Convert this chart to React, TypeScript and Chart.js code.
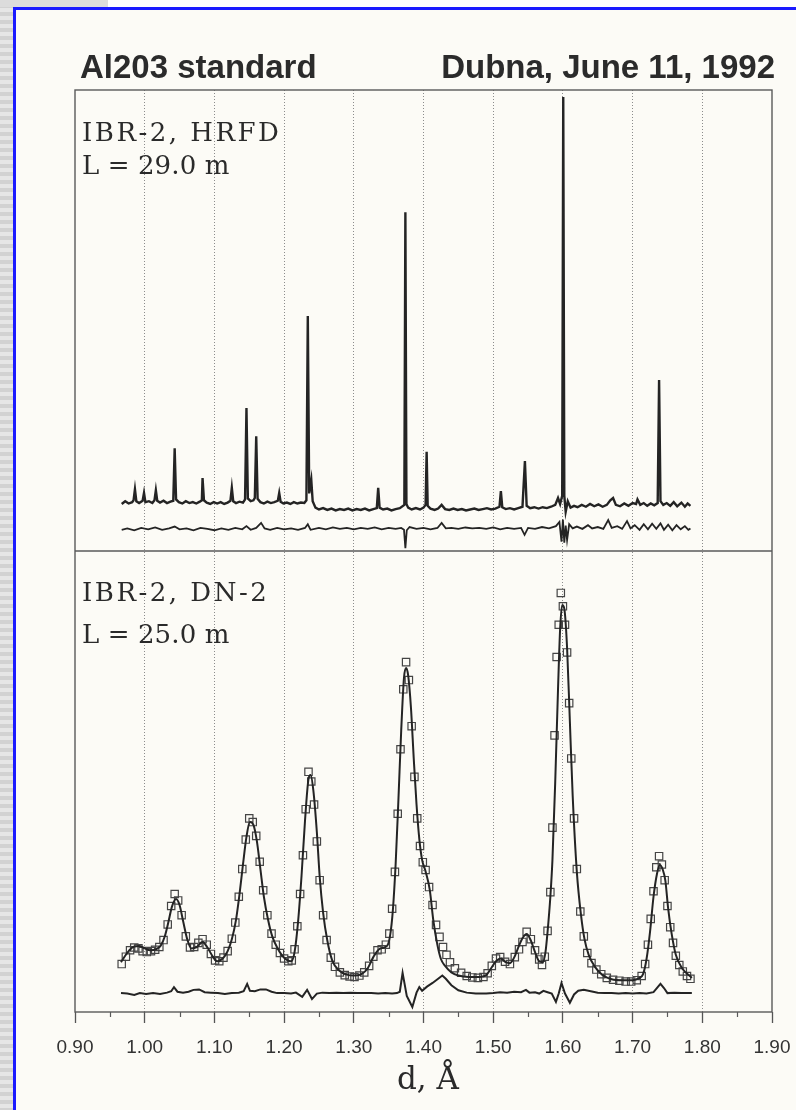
import React, { useEffect, useRef } from "react";
import { Chart, registerables } from "chart.js";

Chart.register(...registerables);

// ---- axis ----
const xMin = 0.9;
const xMax = 1.9;
const xStep = 0.1;
const xMinorTicks = [0.95, 1.05, 1.15, 1.25, 1.35, 1.45, 1.55, 1.65, 1.75, 1.85];
const yPanelHeight = 100; // each panel spans 0..100 units; upper panel is shifted by this

// ---- upper panel: IBR-2, HRFD (d, intensity in panel units) ----
const hrfdObserved: [number, number][] = [
  [0.967, 10.2], [0.972, 10.8], [0.977, 10.3], [0.982, 10.6], [0.984, 11.0], [0.986, 13.4], [0.988, 10.8],
  [0.992, 10.4], [0.997, 10.9], [0.999, 12.6], [1.001, 10.6], [1.006, 10.8], [1.011, 10.4], [1.014, 11.0],
  [1.016, 13.2], [1.018, 10.9], [1.022, 10.5], [1.027, 10.9], [1.032, 10.4], [1.037, 10.7], [1.041, 10.9],
  [1.043, 22.3], [1.045, 11.2], [1.049, 10.6], [1.054, 10.3], [1.059, 10.8], [1.064, 10.4], [1.069, 10.6],
  [1.074, 10.3], [1.079, 10.7], [1.082, 11.0], [1.083, 15.8], [1.085, 11.0], [1.089, 10.5], [1.094, 10.2],
  [1.099, 10.6], [1.104, 10.3], [1.109, 10.6], [1.114, 10.2], [1.119, 10.5], [1.123, 10.9], [1.125, 13.7],
  [1.127, 10.8], [1.131, 10.4], [1.136, 10.7], [1.141, 10.5], [1.144, 11.2], [1.146, 31.0], [1.148, 11.4],
  [1.152, 10.8], [1.156, 11.0], [1.158, 11.5], [1.160, 24.9], [1.162, 11.3], [1.166, 10.6], [1.171, 10.3],
  [1.176, 10.7], [1.181, 10.4], [1.186, 10.6], [1.191, 10.9], [1.193, 12.6], [1.195, 10.7], [1.199, 10.3],
  [1.204, 10.5], [1.209, 10.2], [1.214, 10.6], [1.219, 10.3], [1.224, 10.5], [1.229, 10.4], [1.232, 11.0],
  [1.234, 51.0], [1.236, 12.5], [1.239, 15.4], [1.241, 10.8], [1.245, 9.4], [1.250, 9.0], [1.256, 9.3],
  [1.262, 8.9], [1.268, 9.2], [1.274, 8.8], [1.280, 9.1], [1.286, 8.9], [1.292, 9.2], [1.298, 8.8],
  [1.304, 9.1], [1.310, 8.9], [1.316, 9.2], [1.322, 8.8], [1.328, 9.1], [1.333, 9.3], [1.335, 13.7],
  [1.337, 9.4], [1.342, 9.0], [1.348, 9.2], [1.354, 8.8], [1.360, 9.1], [1.366, 9.3], [1.3725, 10.0],
  [1.374, 73.5], [1.3755, 10.2], [1.378, 9.4], [1.383, 9.0], [1.389, 9.3], [1.395, 9.0], [1.400, 9.4],
  [1.403, 10.0], [1.4045, 21.5], [1.406, 9.8], [1.410, 9.2], [1.416, 8.9], [1.421, 9.2], [1.426, 10.0],
  [1.431, 9.1], [1.437, 8.9], [1.443, 9.2], [1.449, 8.9], [1.455, 9.1], [1.461, 8.8], [1.467, 9.0],
  [1.473, 9.2], [1.479, 8.9], [1.485, 9.1], [1.491, 9.3], [1.497, 9.0], [1.503, 9.2], [1.509, 9.6],
  [1.511, 13.0], [1.513, 9.5], [1.518, 9.1], [1.524, 9.3], [1.530, 9.0], [1.536, 9.3], [1.542, 9.6],
  [1.5455, 19.5], [1.548, 9.8], [1.553, 9.3], [1.559, 9.5], [1.565, 9.2], [1.571, 9.5], [1.577, 9.3],
  [1.583, 9.6], [1.589, 10.0], [1.593, 11.5], [1.596, 10.2], [1.599, 12.0], [1.6005, 98.5], [1.602, 12.0],
  [1.604, 8.5], [1.607, 10.8], [1.611, 9.4], [1.616, 9.8], [1.621, 9.5], [1.627, 10.0], [1.633, 9.6],
  [1.639, 10.2], [1.645, 9.7], [1.651, 10.1], [1.657, 9.6], [1.663, 10.0], [1.668, 11.0], [1.672, 11.5],
  [1.676, 10.0], [1.682, 9.7], [1.688, 10.3], [1.694, 9.8], [1.700, 10.4], [1.705, 10.2], [1.707, 11.2],
  [1.711, 10.0], [1.716, 10.4], [1.721, 9.8], [1.726, 10.3], [1.731, 9.9], [1.736, 10.4], [1.738, 37.1],
  [1.740, 10.8], [1.744, 10.0], [1.749, 10.4], [1.754, 9.8], [1.759, 10.6], [1.764, 9.7], [1.770, 10.5],
  [1.775, 9.6], [1.779, 10.3], [1.783, 9.8]
];

const hrfdDifference: [number, number][] = [
  [0.967, 4.6], [0.975, 4.9], [0.985, 4.5], [0.995, 5.0], [1.005, 4.7], [1.015, 5.1], [1.025, 4.6],
  [1.035, 4.9], [1.043, 5.3], [1.050, 4.7], [1.060, 4.9], [1.070, 4.5], [1.080, 5.0], [1.090, 4.8],
  [1.100, 4.5], [1.110, 4.9], [1.120, 4.6], [1.130, 5.0], [1.140, 4.7], [1.146, 5.4], [1.152, 4.6],
  [1.160, 5.0], [1.167, 6.1], [1.172, 4.9], [1.180, 4.6], [1.190, 5.0], [1.200, 4.7], [1.210, 4.9],
  [1.220, 4.6], [1.230, 5.0], [1.234, 5.8], [1.238, 4.6], [1.250, 5.0], [1.260, 4.7], [1.270, 5.1],
  [1.280, 4.8], [1.290, 5.0], [1.300, 4.7], [1.310, 5.0], [1.320, 4.8], [1.330, 5.1], [1.340, 4.7],
  [1.350, 5.0], [1.360, 4.8], [1.368, 5.0], [1.372, 4.6], [1.374, 0.6], [1.376, 4.5], [1.380, 5.2],
  [1.390, 4.8], [1.400, 5.0], [1.410, 4.7], [1.420, 5.0], [1.426, 6.1], [1.432, 4.9], [1.440, 5.0],
  [1.450, 4.8], [1.460, 5.1], [1.470, 4.9], [1.480, 5.0], [1.490, 4.8], [1.500, 5.1], [1.510, 4.7],
  [1.520, 5.0], [1.530, 4.8], [1.540, 5.0], [1.545, 3.5], [1.550, 5.0], [1.560, 4.8], [1.570, 5.2],
  [1.580, 4.9], [1.590, 5.4], [1.595, 6.3], [1.598, 2.0], [1.600, 6.8], [1.602, 1.8], [1.604, 5.5],
  [1.606, 2.4], [1.609, 5.8], [1.614, 4.9], [1.620, 5.3], [1.628, 4.8], [1.636, 5.6], [1.642, 4.9],
  [1.650, 5.2], [1.658, 4.8], [1.665, 6.7], [1.670, 5.0], [1.678, 5.4], [1.685, 4.8], [1.692, 6.5],
  [1.697, 4.9], [1.703, 5.6], [1.710, 4.6], [1.716, 5.8], [1.722, 4.7], [1.728, 5.9], [1.734, 4.8],
  [1.740, 6.0], [1.745, 4.6], [1.751, 5.7], [1.757, 4.5], [1.763, 5.6], [1.769, 4.7], [1.775, 5.4],
  [1.780, 4.6], [1.783, 4.9]
];

// ---- lower panel: IBR-2, DN-2 ----
const dn2Calculated: [number, number][] = [
  [0.966, 10.8], [0.972, 12.2], [0.978, 13.4], [0.985, 14.2], [0.992, 14.3], [1.000, 13.8], [1.008, 13.4],
  [1.016, 13.6], [1.023, 14.4], [1.029, 16.5], [1.034, 19.5], [1.039, 22.8], [1.045, 24.5], [1.050, 23.2],
  [1.055, 19.8], [1.061, 15.8], [1.067, 13.8], [1.074, 14.0], [1.083, 15.2], [1.090, 14.0], [1.097, 12.2],
  [1.104, 11.0], [1.112, 11.6], [1.119, 13.2], [1.125, 15.8], [1.131, 20.0], [1.136, 25.5], [1.141, 32.0],
  [1.146, 38.0], [1.151, 41.2], [1.156, 40.6], [1.161, 37.0], [1.166, 31.0], [1.171, 25.0], [1.177, 20.0],
  [1.183, 16.4], [1.190, 14.0], [1.197, 12.3], [1.204, 11.3], [1.210, 11.0], [1.215, 13.0], [1.220, 19.5],
  [1.225, 29.5], [1.230, 41.5], [1.235, 50.5], [1.238, 51.4], [1.242, 48.0], [1.247, 39.0], [1.251, 29.5],
  [1.256, 21.5], [1.262, 15.5], [1.269, 11.2], [1.279, 9.0], [1.290, 8.1], [1.300, 7.9], [1.311, 8.2],
  [1.320, 9.5], [1.328, 11.9], [1.337, 13.7], [1.348, 14.4], [1.352, 16.5], [1.356, 22.0], [1.360, 32.0],
  [1.364, 46.0], [1.368, 61.0], [1.372, 72.5], [1.375, 74.6], [1.378, 73.0], [1.382, 66.0], [1.386, 55.0],
  [1.390, 45.0], [1.394, 37.5], [1.398, 33.0], [1.403, 30.5], [1.409, 26.5], [1.414, 20.0], [1.420, 14.5],
  [1.425, 11.5], [1.431, 10.0], [1.440, 8.6], [1.450, 7.9], [1.465, 7.6], [1.480, 7.6], [1.490, 8.0],
  [1.497, 9.5], [1.504, 11.0], [1.511, 11.6], [1.518, 10.8], [1.524, 10.6], [1.530, 11.8], [1.536, 14.0],
  [1.542, 16.0], [1.548, 16.9], [1.554, 15.5], [1.560, 13.0], [1.566, 11.0], [1.571, 10.8], [1.575, 13.0],
  [1.578, 17.4], [1.582, 25.0], [1.585, 33.0], [1.589, 50.0], [1.593, 70.0], [1.596, 83.0], [1.599, 88.3],
  [1.602, 87.5], [1.606, 79.0], [1.610, 63.0], [1.614, 47.0], [1.620, 30.4], [1.626, 21.0], [1.631, 15.8],
  [1.637, 12.4], [1.646, 9.8], [1.657, 8.0], [1.670, 7.1], [1.685, 6.9], [1.700, 6.9], [1.710, 7.4],
  [1.715, 8.2], [1.720, 11.5], [1.725, 17.4], [1.730, 25.0], [1.735, 30.0], [1.739, 31.9], [1.743, 31.0],
  [1.747, 28.5], [1.751, 22.5], [1.756, 17.0], [1.762, 12.4], [1.771, 9.5], [1.785, 7.4]
];

const dn2Observed: [number, number][] = [
  [0.967, 10.4], [0.973, 12.0], [0.979, 13.4], [0.985, 14.0], [0.991, 13.8], [0.997, 13.2], [1.003, 13.0],
  [1.009, 13.2], [1.015, 13.5], [1.021, 14.1], [1.027, 15.6], [1.033, 19.0], [1.038, 23.0], [1.043, 25.6],
  [1.048, 24.2], [1.053, 21.0], [1.059, 16.4], [1.065, 14.0], [1.071, 14.1], [1.077, 15.0], [1.083, 15.8],
  [1.089, 14.6], [1.095, 12.6], [1.101, 11.2], [1.107, 11.0], [1.113, 11.8], [1.119, 13.2], [1.125, 15.9],
  [1.130, 19.4], [1.135, 25.0], [1.140, 31.0], [1.145, 37.4], [1.150, 42.0], [1.155, 41.2], [1.160, 38.2],
  [1.165, 32.6], [1.170, 26.4], [1.176, 21.0], [1.182, 17.0], [1.188, 14.6], [1.194, 12.8], [1.200, 11.6],
  [1.206, 11.0], [1.211, 11.2], [1.215, 13.6], [1.219, 18.6], [1.223, 25.6], [1.227, 34.0], [1.231, 44.0],
  [1.235, 52.1], [1.239, 50.0], [1.243, 45.0], [1.247, 37.0], [1.251, 28.6], [1.256, 21.0], [1.261, 15.6],
  [1.267, 11.8], [1.273, 9.8], [1.280, 8.6], [1.287, 8.0], [1.294, 7.7], [1.301, 7.6], [1.308, 7.9],
  [1.315, 8.6], [1.322, 10.0], [1.328, 12.0], [1.334, 13.4], [1.340, 13.6], [1.346, 14.6], [1.351, 17.0],
  [1.355, 22.4], [1.359, 30.4], [1.363, 43.0], [1.367, 57.0], [1.371, 70.0], [1.375, 75.9], [1.379, 72.0],
  [1.383, 62.0], [1.387, 51.0], [1.391, 42.0], [1.395, 36.0], [1.399, 32.5], [1.403, 30.8], [1.408, 27.1],
  [1.413, 23.2], [1.418, 18.9], [1.423, 16.3], [1.428, 14.1], [1.433, 12.4], [1.438, 10.8], [1.445, 9.5],
  [1.454, 8.5], [1.462, 7.8], [1.470, 7.5], [1.478, 7.4], [1.486, 7.6], [1.492, 8.4], [1.498, 10.0],
  [1.504, 11.6], [1.510, 11.9], [1.517, 10.9], [1.524, 10.4], [1.531, 11.9], [1.537, 13.6], [1.542, 15.2],
  [1.548, 17.4], [1.554, 15.8], [1.560, 13.4], [1.566, 11.4], [1.570, 10.2], [1.574, 12.0], [1.578, 17.6],
  [1.582, 26.0], [1.585, 40.0], [1.588, 60.0], [1.591, 77.0], [1.594, 84.0], [1.597, 90.9], [1.600, 88.0],
  [1.603, 84.0], [1.606, 78.0], [1.609, 67.0], [1.612, 55.0], [1.616, 42.0], [1.620, 31.0], [1.625, 21.8],
  [1.630, 16.4], [1.635, 12.8], [1.641, 10.6], [1.648, 9.2], [1.655, 8.2], [1.663, 7.4], [1.672, 7.0],
  [1.681, 6.8], [1.690, 6.6], [1.698, 6.6], [1.706, 6.9], [1.713, 7.8], [1.718, 10.4], [1.722, 14.6],
  [1.726, 20.2], [1.730, 26.2], [1.734, 31.4], [1.738, 33.8], [1.742, 32.0], [1.746, 28.6], [1.750, 23.0],
  [1.754, 18.4], [1.758, 15.0], [1.762, 12.2], [1.767, 10.2], [1.772, 8.8], [1.778, 7.8], [1.783, 7.2]
];

const dn2Difference: [number, number][] = [
  [0.966, 4.1], [0.975, 4.0], [0.985, 3.7], [0.993, 4.1], [1.002, 3.9], [1.012, 4.1], [1.022, 3.9],
  [1.032, 4.2], [1.038, 4.5], [1.042, 5.4], [1.047, 4.4], [1.055, 4.2], [1.063, 4.4], [1.070, 4.8],
  [1.078, 4.9], [1.086, 4.3], [1.095, 4.2], [1.105, 4.1], [1.115, 3.9], [1.125, 4.1], [1.135, 4.2],
  [1.142, 4.5], [1.147, 6.1], [1.151, 4.6], [1.158, 4.5], [1.166, 4.9], [1.174, 4.9], [1.182, 4.4],
  [1.190, 4.1], [1.200, 4.1], [1.210, 4.0], [1.217, 4.2], [1.226, 3.3], [1.233, 4.8], [1.240, 2.8],
  [1.247, 4.0], [1.255, 4.2], [1.265, 4.1], [1.275, 4.2], [1.285, 4.1], [1.295, 4.2], [1.305, 4.1],
  [1.315, 4.1], [1.325, 4.1], [1.335, 4.0], [1.345, 4.1], [1.355, 4.0], [1.362, 4.1], [1.366, 4.4],
  [1.370, 8.5], [1.376, 3.5], [1.384, 1.1], [1.390, 4.2], [1.394, 5.4], [1.398, 4.6], [1.405, 5.5],
  [1.413, 6.3], [1.421, 7.2], [1.427, 7.9], [1.432, 7.2], [1.440, 5.8], [1.450, 4.7], [1.462, 4.2],
  [1.475, 4.0], [1.490, 4.0], [1.500, 4.1], [1.510, 4.3], [1.520, 4.2], [1.530, 4.4], [1.540, 4.3],
  [1.547, 4.8], [1.552, 4.2], [1.560, 4.3], [1.566, 4.0], [1.572, 4.6], [1.578, 4.3], [1.584, 4.0],
  [1.590, 2.2], [1.594, 4.0], [1.598, 6.3], [1.603, 4.0], [1.610, 2.0], [1.616, 3.8], [1.622, 4.6],
  [1.630, 4.8], [1.640, 4.5], [1.650, 4.2], [1.660, 4.1], [1.670, 4.1], [1.680, 4.0], [1.690, 4.1],
  [1.700, 4.0], [1.710, 4.1], [1.720, 4.0], [1.730, 4.3], [1.736, 5.4], [1.740, 6.1], [1.745, 5.2],
  [1.750, 4.1], [1.760, 4.2], [1.770, 4.1], [1.785, 4.1]
];

const titleLeft = "Al203 standard";
const titleRight = "Dubna, June 11, 1992";
const upperLabel = ["IBR-2, HRFD", "L = 29.0 m"];
const lowerLabel = ["IBR-2, DN-2", "L = 25.0 m"];
const xAxisTitle = "d, Å";

const toPts = (arr: [number, number][], shift = 0) => arr.map(([x, y]) => ({ x, y: y + shift }));

const INK = "#242424";

const framePlugin = {
  id: "frame",
  beforeDatasetsDraw(chart: any) {
    const { ctx, chartArea: a, scales } = chart;
    ctx.save();
    ctx.strokeStyle = "#5a5a5a";
    ctx.lineWidth = 1.4;
    ctx.strokeRect(a.left, a.top, a.right - a.left, a.bottom - a.top);
    const yMid = scales.y.getPixelForValue(yPanelHeight);
    ctx.beginPath();
    ctx.moveTo(a.left, yMid);
    ctx.lineTo(a.right, yMid);
    ctx.stroke();
    ctx.beginPath();
    ctx.lineWidth = 1.2;
    for (const v of xMinorTicks) {
      const px = Math.round(scales.x.getPixelForValue(v)) + 0.5;
      ctx.moveTo(px, a.bottom);
      ctx.lineTo(px, a.bottom + 5);
    }
    ctx.stroke();
    ctx.restore();
  },
};

export default function App() {
  const canvasRef = useRef<HTMLCanvasElement | null>(null);

  useEffect(() => {
    if (!canvasRef.current) return;
    const chart = new Chart(canvasRef.current, {
      type: "line",
      data: {
        datasets: [
          {
            label: "HRFD observed",
            data: toPts(hrfdObserved, yPanelHeight),
            borderColor: INK,
            borderWidth: 2.4,
            pointRadius: 0,
            tension: 0,
          },
          {
            label: "HRFD difference",
            data: toPts(hrfdDifference, yPanelHeight),
            borderColor: INK,
            borderWidth: 1.8,
            pointRadius: 0,
            tension: 0,
          },
          {
            label: "DN-2 calculated",
            data: toPts(dn2Calculated),
            borderColor: INK,
            borderWidth: 2,
            pointRadius: 0,
            cubicInterpolationMode: "monotone",
          },
          {
            label: "DN-2 observed",
            data: toPts(dn2Observed),
            showLine: false,
            pointStyle: "rect",
            pointRadius: 5.2,
            pointBorderWidth: 1.2,
            pointBorderColor: "#454545",
            pointBackgroundColor: "rgba(0,0,0,0)",
          },
          {
            label: "DN-2 difference",
            data: toPts(dn2Difference),
            borderColor: INK,
            borderWidth: 2,
            pointRadius: 0,
            tension: 0,
          },
        ],
      },
      options: {
        animation: false,
        responsive: false,
        devicePixelRatio: 1,
        layout: { padding: { left: 75, right: 24, top: 90, bottom: 38 } },
        plugins: { legend: { display: false }, tooltip: { enabled: false } },
        scales: {
          x: {
            type: "linear",
            min: xMin,
            max: xMax,
            afterFit: (s: any) => {
              s.height = 60;
              s.paddingLeft = 0;
              s.paddingRight = 0;
            },
            ticks: {
              stepSize: xStep,
              padding: 13,
              color: "#333",
              font: { family: "'Liberation Sans', Arial, sans-serif", size: 19 },
              callback: (v: any) => Number(v).toFixed(2),
              maxRotation: 0,
              autoSkip: false,
            },
            grid: {
              color: (c: any) => {
                const v = c.tick ? c.tick.value : undefined;
                if (v === undefined || Math.abs(v - xMin) < 1e-6 || Math.abs(v - xMax) < 1e-6) return "rgba(0,0,0,0)";
                return "#8c8c8c";
              },
              lineWidth: 1,
              drawTicks: true,
              tickLength: 11,
              tickColor: "#555",
              tickWidth: 1.3,
            },
            border: { display: false, dash: [1, 2] },
          },
          y: {
            type: "linear",
            min: 0,
            max: 2 * yPanelHeight,
            display: false,
          },
        },
      },
      plugins: [framePlugin],
    } as any);
    return () => chart.destroy();
  }, []);

  const serif = "'DejaVu Serif', 'Liberation Serif', serif";
  const sansBold = "bold 33px 'Liberation Sans', Arial, sans-serif";
  const panelText: React.CSSProperties = {
    position: "absolute",
    left: 82,
    font: `26px ${serif}`,
    color: "#2a2a2a",
    lineHeight: "26px",
    whiteSpace: "nowrap",
  };
  const idText: React.CSSProperties = { ...panelText, letterSpacing: "2.5px" };
  const lenText: React.CSSProperties = { ...panelText, letterSpacing: "0.1px" };

  return (
    <div
      style={{
        position: "absolute",
        left: 0,
        top: 0,
        width: 796,
        height: 1110,
        overflow: "hidden",
        background: "#fcfbf6",
      }}
    >
      <div
        style={{
          position: "absolute",
          left: 0,
          top: 0,
          width: 13,
          height: 1110,
          background: "repeating-linear-gradient(180deg, #e6e6e6 0px, #e6e6e6 4px, #d2d2d2 4px, #d2d2d2 8px)",
        }}
      />
      <div style={{ position: "absolute", left: 0, top: 0, width: 108, height: 7, background: "#dcdcdc" }} />
      <div style={{ position: "absolute", left: 108, top: 0, width: 688, height: 7, background: "#ffffff" }} />
      <div style={{ position: "absolute", left: 13, top: 7, width: 3, height: 1103, background: "#1a1aff" }} />
      <div style={{ position: "absolute", left: 13, top: 7, width: 783, height: 3, background: "#1a1aff" }} />

      <canvas ref={canvasRef} width={796} height={1110} style={{ position: "absolute", left: 0, top: 0 }} />

      <div style={{ position: "absolute", left: 80, top: 50, font: sansBold, lineHeight: "33px", color: "#2b2b2b", whiteSpace: "nowrap" }}>
        {titleLeft}
      </div>
      <div style={{ position: "absolute", right: 21, top: 50, font: sansBold, lineHeight: "33px", color: "#2b2b2b", whiteSpace: "nowrap" }}>
        {titleRight}
      </div>

      <div style={{ ...idText, top: 119 }}>{upperLabel[0]}</div>
      <div style={{ ...lenText, top: 152 }}>{upperLabel[1]}</div>
      <div style={{ ...idText, top: 579 }}>{lowerLabel[0]}</div>
      <div style={{ ...lenText, top: 621 }}>{lowerLabel[1]}</div>

      <div
        style={{
          position: "absolute",
          left: 0,
          width: 856,
          top: 1063,
          textAlign: "center",
          font: `31px ${serif}`,
          lineHeight: "31px",
          color: "#2a2a2a",
          whiteSpace: "nowrap",
        }}
      >
        {xAxisTitle}
      </div>
    </div>
  );
}
